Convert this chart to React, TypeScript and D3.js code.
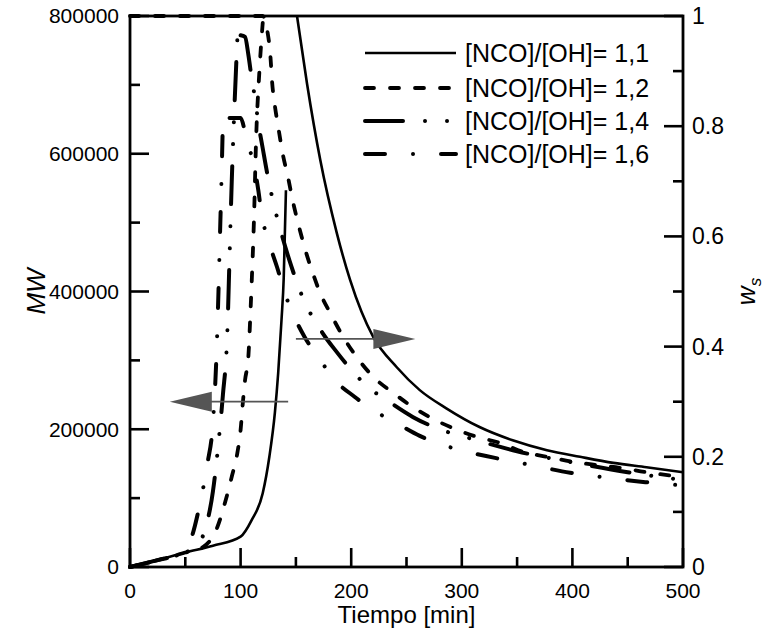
import React from 'react';
import * as d3 from 'd3';

const W = 766, H = 635;
const PL = 130, PR = 683, PT = 16, PB = 567;

// axes ticks
const xMajor = [0, 100, 200, 300, 400, 500];
const xMinor = [50, 150, 250, 350, 450];
const mwMajor = [0, 200000, 400000, 600000, 800000];
const mwMinor = [100000, 300000, 500000, 700000];
const wsMajor = [0, 0.2, 0.4, 0.6, 0.8, 1];
const wsMinor = [0.1, 0.3, 0.5, 0.7, 0.9];
const wsLabels = ['0', '0.2', '0.4', '0.6', '0.8', '1'];

const seriesNames = ['[NCO]/[OH]= 1,1', '[NCO]/[OH]= 1,2', '[NCO]/[OH]= 1,4', '[NCO]/[OH]= 1,6'];

// 1,1
const t11MW = [0, 25, 50, 75, 100, 110, 120, 126, 131, 134, 137, 139, 141];
const mw11 = [0, 10000, 21000, 31000, 44000, 68000, 107000, 160000, 224000, 282000, 359000, 420000, 547000];
const t11Ws = [151, 160, 172, 187, 199, 220, 241, 262, 286, 316, 346, 377, 407, 437, 467, 500];
const ws11 = [1.0, 0.878, 0.739, 0.606, 0.521, 0.417, 0.363, 0.321, 0.288, 0.254, 0.230, 0.212, 0.200, 0.189, 0.181, 0.172];

// 1,2
const t12MW = [0, 25, 50, 66, 79, 86, 92, 97, 100, 102, 104, 107, 109, 110, 112, 114, 117, 120];
const mw12 = [0, 10000, 21000, 29000, 58000, 94000, 131000, 165000, 199000, 238000, 271000, 305000, 373000, 412000, 500000, 620000, 720000, 790000];
const t12Ws = [0, 120, 124, 127, 128.5, 131, 134, 138, 143, 147, 152, 158, 165, 172, 181, 193, 205, 220, 238, 256, 271, 292, 314, 335, 355, 377, 400, 422, 443, 467, 500];
const ws12 = [1, 1, 0.975, 0.926, 0.88, 0.837, 0.799, 0.751, 0.706, 0.666, 0.624, 0.579, 0.535, 0.497, 0.461, 0.417, 0.381, 0.345, 0.316, 0.290, 0.272, 0.252, 0.236, 0.225, 0.209, 0.200, 0.191, 0.185, 0.180, 0.172, 0.163];

// 1,4
const t14MW = [0, 25, 50, 60, 68, 75, 80, 84, 88, 90, 92, 94, 97];
const mw14 = [0, 10000, 21000, 30000, 55000, 110000, 180000, 250000, 340000, 450000, 560000, 650000, 765000];
const t14Ws = [100, 104, 107, 110, 113, 116, 120, 124, 131, 136, 146, 156, 174, 187, 200, 215, 232, 256, 280, 310, 350, 400, 450, 500];
const ws14 = [0.965, 0.962, 0.93, 0.887, 0.851, 0.806, 0.76, 0.715, 0.65, 0.612, 0.545, 0.49, 0.425, 0.39, 0.358, 0.327, 0.303, 0.272, 0.25, 0.232, 0.21, 0.19, 0.172, 0.158];

// 1,6
const t16MW = [0, 25, 45, 55, 63, 70, 75, 78, 80, 81.5, 83, 84];
const mw16 = [0, 10000, 19000, 40000, 90000, 150000, 210000, 300000, 400000, 490000, 580000, 650000];
const t16Ws = [90, 100, 105, 110, 113, 116, 119, 125, 133, 140, 147, 158, 172, 183.5, 203, 223, 241, 262, 295, 330, 363, 398, 431, 466, 500];
const ws16 = [0.815, 0.815, 0.78, 0.745, 0.72, 0.684, 0.64, 0.593, 0.544, 0.497, 0.461, 0.417, 0.376, 0.343, 0.309, 0.281, 0.261, 0.238, 0.214, 0.198, 0.185, 0.171, 0.162, 0.154, 0.148];

const mwTimes = [t11MW, t12MW, t14MW, t16MW];
const mwVals = [mw11, mw12, mw14, mw16];
const wsTimes = [t11Ws, t12Ws, t14Ws, t16Ws];
const wsVals = [ws11, ws12, ws14, ws16];

const dashes = ['none', '9 16', '38 22 0.01 22 0.01 22', '20 28 0.01 28'];
const widths = [2.6, 3.8, 4, 4];

// arrows (annotation, in data units)
const arrowMW = { y: 240000, from: 143, to: 36 };
const arrowWs = { y: 0.414, from: 150, to: 258 };

const FONT = "Arial, 'Liberation Sans', Helvetica, sans-serif";

export default function App() {
  const x = d3.scaleLinear().domain([0, 500]).range([PL, PR]);
  const yL = d3.scaleLinear().domain([0, 800000]).range([PB, PT]);
  const yR = d3.scaleLinear().domain([0, 1]).range([PB, PT]);

  const mkLine = (ys: d3.ScaleLinear<number, number>) =>
    d3.line<[number, number]>().x(d => x(d[0])).y(d => ys(d[1])).curve(d3.curveMonotoneX);

  const lineL = mkLine(yL);
  const lineR = mkLine(yR);

  const legendY = [53, 88, 121, 154];

  const arrowHead = (tipX: number, tipY: number, dir: number) => {
    const len = 42, hw = 10;
    return `M${tipX},${tipY} L${tipX - dir * len},${tipY - hw} L${tipX - dir * len},${tipY + hw} Z`;
  };

  const aLy = yL(arrowMW.y);
  const aLtip = x(arrowMW.to);
  const aRy = yR(arrowWs.y);
  const aRtip = x(arrowWs.to);

  return (
    <svg width={W} height={H} style={{ position: 'absolute', left: 0, top: 0, background: '#fff' }}
      fontFamily={FONT}>
      <rect x={0} y={0} width={W} height={H} fill="#fff" />
      {/* curves */}
      {mwTimes.map((ts, i) => (
        <path key={'mw' + i}
          d={lineL(ts.map((t, j) => [t, mwVals[i][j]] as [number, number])) || ''}
          fill="none" stroke="#000" strokeWidth={widths[i]}
          strokeDasharray={dashes[i]} strokeLinecap={i === 0 ? 'butt' : 'round'} />
      ))}
      {wsTimes.map((ts, i) => (
        <path key={'ws' + i}
          d={lineR(ts.map((t, j) => [t, wsVals[i][j]] as [number, number])) || ''}
          fill="none" stroke="#000" strokeWidth={widths[i]}
          strokeDasharray={dashes[i]} strokeLinecap={i === 0 ? 'butt' : 'round'} />
      ))}

      {/* arrows */}
      <line x1={x(arrowMW.from)} x2={aLtip + 40} y1={aLy} y2={aLy} stroke="#555" strokeWidth={1.8} />
      <path d={arrowHead(aLtip, aLy, -1)} fill="#555" />
      <line x1={x(arrowWs.from)} x2={aRtip - 40} y1={aRy} y2={aRy} stroke="#555" strokeWidth={1.8} />
      <path d={arrowHead(aRtip, aRy, 1)} fill="#555" />

      {/* frame */}
      <rect x={PL} y={PT} width={PR - PL} height={PB - PT} fill="none" stroke="#000" strokeWidth={2.8} />

      {/* x ticks */}
      {xMajor.map(v => (
        <g key={'xm' + v}>
          <line x1={x(v)} x2={x(v)} y1={PB} y2={PB - 19} stroke="#000" strokeWidth={2.6} />
          <text x={x(v)} y={598} fontSize={21} textAnchor="middle">{v}</text>
        </g>
      ))}
      {xMinor.map(v => (
        <line key={'xn' + v} x1={x(v)} x2={x(v)} y1={PB} y2={PB - 10} stroke="#000" strokeWidth={2.6} />
      ))}
      {/* left ticks */}
      {mwMajor.map(v => (
        <g key={'lm' + v}>
          <line x1={PL} x2={PL + 19} y1={yL(v)} y2={yL(v)} stroke="#000" strokeWidth={2.6} />
          <text x={119} y={yL(v)} dy="0.35em" fontSize={21} textAnchor="end">{v}</text>
        </g>
      ))}
      {mwMinor.map(v => (
        <line key={'ln' + v} x1={PL} x2={PL + 10} y1={yL(v)} y2={yL(v)} stroke="#000" strokeWidth={2.6} />
      ))}
      {/* right ticks */}
      {wsMajor.map((v, i) => (
        <g key={'rm' + v}>
          <line x1={PR} x2={PR - 19} y1={yR(v)} y2={yR(v)} stroke="#000" strokeWidth={2.6} />
          <text x={692} y={yR(v)} dy="0.35em" fontSize={23}>{wsLabels[i]}</text>
        </g>
      ))}
      {wsMinor.map(v => (
        <line key={'rn' + v} x1={PR} x2={PR - 10} y1={yR(v)} y2={yR(v)} stroke="#000" strokeWidth={2.6} />
      ))}

      {/* axis titles */}
      <text x={(PL + PR) / 2} y={623} fontSize={24} textAnchor="middle">Tiempo [min]</text>
      <text transform={`translate(45, ${(PT + PB) / 2}) rotate(-90)`} fontSize={26} fontStyle="italic" textAnchor="middle">MW</text>
      <text transform={`translate(755, ${(PT + PB) / 2}) rotate(-90)`} fontSize={26} fontStyle="italic" textAnchor="middle">
        w<tspan fontSize={17} dy={6}>s</tspan>
      </text>

      {/* legend */}
      {seriesNames.map((name, i) => (
        <g key={'lg' + i}>
          <line x1={365} x2={456} y1={legendY[i]} y2={legendY[i]} stroke="#000" strokeWidth={widths[i]}
            strokeDasharray={dashes[i]} strokeLinecap={i === 0 ? 'butt' : 'round'} />
          <text x={465} y={legendY[i]} dy="0.35em" fontSize={25}>{name}</text>
        </g>
      ))}
    </svg>
  );
}
